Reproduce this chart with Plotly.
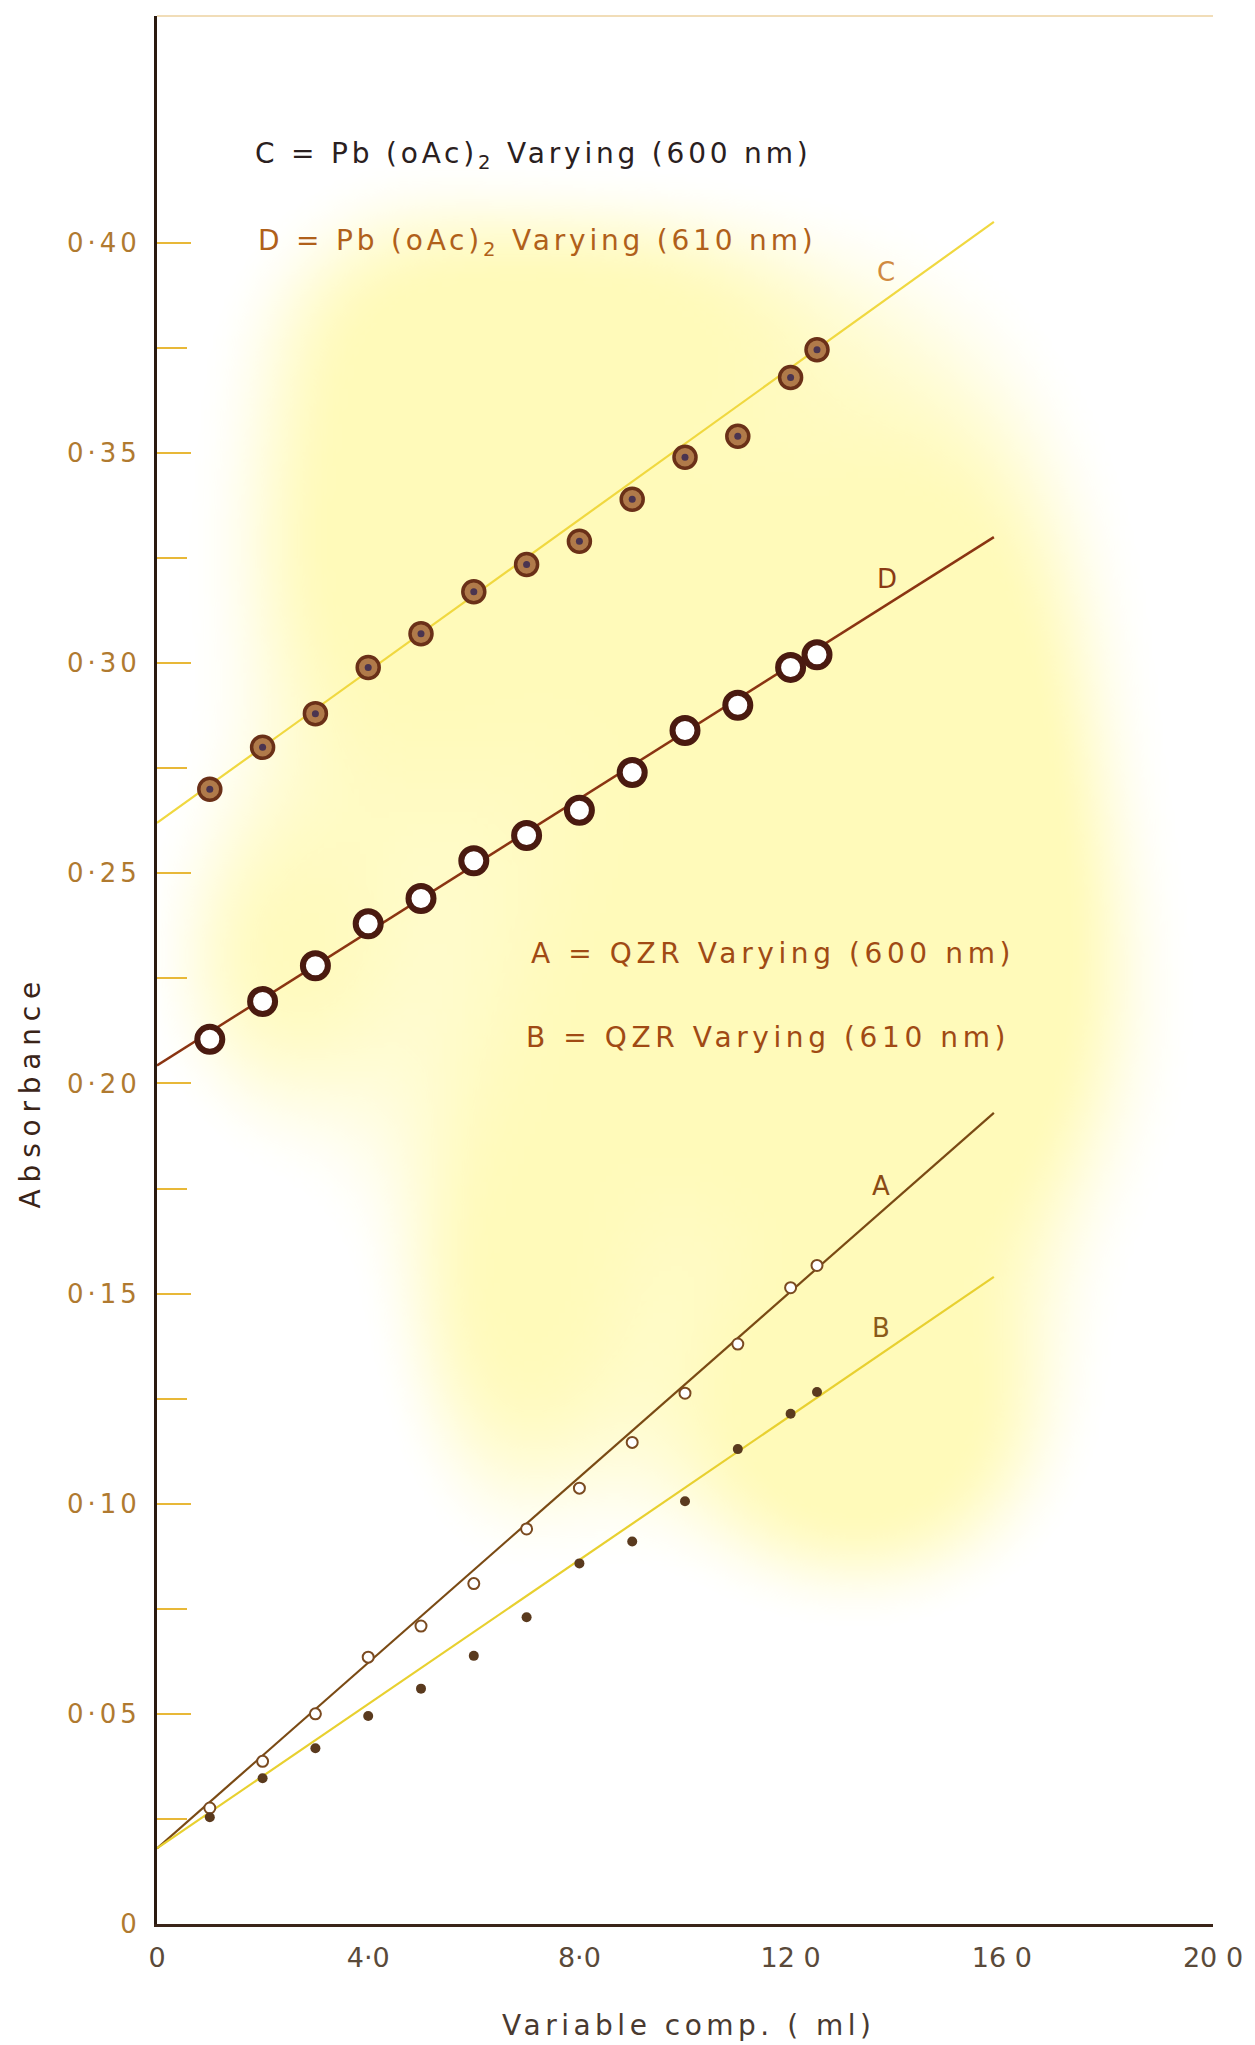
import base64
import struct
import zlib

import numpy as np
import plotly.graph_objects as go

# ---- data ----
vol = [1, 2, 3, 4, 5, 6, 7, 8, 9, 10, 11, 12, 12.5]
abs_C = [0.270, 0.280, 0.288, 0.299, 0.307, 0.317, 0.3235, 0.329, 0.339, 0.349, 0.354, 0.368, 0.3746]
abs_D = [0.2105, 0.2195, 0.228, 0.238, 0.244, 0.253, 0.259, 0.265, 0.274, 0.284, 0.290, 0.299, 0.302]
abs_A = [0.0276, 0.0387, 0.050, 0.0635, 0.0709, 0.081, 0.094, 0.1037, 0.1146, 0.1263, 0.138, 0.1514, 0.1567]
abs_B = [0.0254, 0.0347, 0.0418, 0.0495, 0.056, 0.0638, 0.073, 0.0858, 0.091, 0.1006, 0.113, 0.1214, 0.1266]

fit_x = [0, 15.85]
fit_C = [0.262, 0.405]
fit_D = [0.2043, 0.330]
fit_A = [0.018, 0.193]
fit_B = [0.018, 0.154]

y_tickvals = [0, 0.05, 0.10, 0.15, 0.20, 0.25, 0.30, 0.35, 0.40]
y_ticktext = ["0", "0·05", "0·10", "0·15", "0·20", "0·25", "0·30", "0·35", "0·40"]
y_minor = [0.025, 0.075, 0.125, 0.175, 0.225, 0.275, 0.325, 0.375]
x_tickvals = [0, 4, 8, 12, 16, 20]
x_ticktext = ["0", "4·0", "8·0", "12 0", "16 0", "20 0"]

FONT = "DejaVu Sans"


def spaced(s, px):
    return f'<span style="letter-spacing:{px}px">{s}</span>'


# ---- soft yellow stain of the scanned paper (decoration only) ----
def stain_png(w=180, h=320):
    xs = np.linspace(0, 1, w)[None, :]
    ys = np.linspace(1, 0, h)[:, None]
    comps = [
        (0.48, 0.72, 0.28, 0.12, 0.55),
        (0.58, 0.46, 0.26, 0.11, 0.60),
        (0.76, 0.56, 0.10, 0.15, 0.45),
        (0.66, 0.25, 0.14, 0.065, 0.60),
        (0.33, 0.30, 0.09, 0.09, 0.40),
        (0.10, 0.50, 0.09, 0.07, 0.35),
        (0.40, 0.85, 0.18, 0.045, 0.30),
        (0.20, 0.74, 0.10, 0.12, 0.30),
    ]
    s = np.zeros((h, w))
    for cx, cy, sx, sy, wt in comps:
        s += wt * np.exp(-(((xs - cx) / sx) ** 2 + ((ys - cy) / sy) ** 2) / 2)
    a = np.clip((s - 0.20) / 0.40, 0, 1)
    a = a * a * (3 - 2 * a) * 0.48
    img = np.zeros((h, w, 4), dtype=np.uint8)
    img[..., 0] = 255
    img[..., 1] = 244
    img[..., 2] = 110
    img[..., 3] = (a * 255).astype(np.uint8)
    raw = b"".join(b"\x00" + img[r].tobytes() for r in range(h))

    def chunk(tag, data):
        c = struct.pack(">I", len(data)) + tag + data
        return c + struct.pack(">I", zlib.crc32(tag + data) & 0xFFFFFFFF)

    png = b"\x89PNG\r\n\x1a\n" + chunk(b"IHDR", struct.pack(">IIBBBBB", w, h, 8, 6, 0, 0, 0)) \
        + chunk(b"IDAT", zlib.compress(raw, 9)) + chunk(b"IEND", b"")
    return "data:image/png;base64," + base64.b64encode(png).decode()


fig = go.Figure()

fig.add_layout_image(dict(source=stain_png(), xref="paper", yref="paper", x=0, y=1,
                          sizex=1, sizey=1, sizing="stretch", xanchor="left", yanchor="top",
                          layer="below"))

# fitted lines
fig.add_trace(go.Scatter(x=fit_x, y=fit_C, mode="lines", line=dict(color="#f0d840", width=2.2), showlegend=False))
fig.add_trace(go.Scatter(x=fit_x, y=fit_D, mode="lines", line=dict(color="#8a3412", width=2.5), showlegend=False))
fig.add_trace(go.Scatter(x=fit_x, y=fit_A, mode="lines", line=dict(color="#7a4a14", width=2.2), showlegend=False))
fig.add_trace(go.Scatter(x=fit_x, y=fit_B, mode="lines", line=dict(color="#e8d030", width=2.2), showlegend=False))

# markers
fig.add_trace(go.Scatter(x=vol, y=abs_C, mode="markers", showlegend=False,
                         marker=dict(symbol="circle", size=22, color="#b07a4a",
                                     line=dict(color="#6a3018", width=3.5))))
fig.add_trace(go.Scatter(x=vol, y=abs_C, mode="markers", showlegend=False,
                         marker=dict(symbol="circle", size=7, color="#4a3450", line=dict(width=0))))
fig.add_trace(go.Scatter(x=vol, y=abs_D, mode="markers", showlegend=False,
                         marker=dict(symbol="circle", size=25, color="white",
                                     line=dict(color="#4a1a10", width=6))))
fig.add_trace(go.Scatter(x=vol, y=abs_A, mode="markers", showlegend=False,
                         marker=dict(symbol="circle", size=11, color="white",
                                     line=dict(color="#7a4a20", width=2))))
fig.add_trace(go.Scatter(x=vol, y=abs_B, mode="markers", showlegend=False,
                         marker=dict(symbol="circle", size=10, color="#5a3a1e", line=dict(width=0))))

# faint top border
fig.add_shape(type="line", xref="paper", yref="paper", x0=0, x1=1, y0=1, y1=1,
              line=dict(color="#ecd2a0", width=1.5))


def txt(x, y, s, color, size=28, xanchor="left"):
    fig.add_annotation(x=x, y=y, xref="x", yref="y", text=s, showarrow=False,
                       xanchor=xanchor, yanchor="middle",
                       font=dict(family=FONT, size=size, color=color))


txt(1.82, 0.4207, spaced("C = Pb (oAc)<sub>2</sub> Varying (600 nm)", 3.8), "#2a2020", 28)
txt(1.88, 0.400, spaced("D = Pb (oAc)<sub>2</sub> Varying (610 nm)", 3.8), "#b0601a", 28)
txt(7.05, 0.231, spaced("A = QZR Varying (600 nm)", 4.6), "#a04a14", 28)
txt(6.95, 0.211, spaced("B = QZR Varying (610 nm)", 4.6), "#a04a14", 28)
txt(13.6, 0.393, "C", "#d08a40", 26)
txt(13.6, 0.320, "D", "#8a3a14", 26)
txt(13.5, 0.1755, "A", "#8a4a14", 26)
txt(13.5, 0.1417, "B", "#8a5a1a", 26)

fig.add_annotation(x=-0.12, y=0.436, xref="paper", yref="paper", text=spaced("Absorbance", 6.8),
                   showarrow=False, textangle=-90, xanchor="center", yanchor="middle",
                   font=dict(family=FONT, size=28, color="#3a2418"))
fig.add_annotation(x=0.503, y=-0.053, xref="paper", yref="paper", text=spaced("Variable comp. ( ml)", 4.5),
                   showarrow=False, xanchor="center", yanchor="middle",
                   font=dict(family=FONT, size=28, color="#4a3a30"))

fig.update_xaxes(range=[0, 20], tickvals=x_tickvals, ticktext=x_ticktext, ticks="",
                 showgrid=False, zeroline=False, showline=True, linecolor="#3a2418", linewidth=2.5,
                 tickfont=dict(family=FONT, size=27, color="#5a4a3a"), ticklabelstandoff=8)
fig.update_yaxes(range=[0, 0.454], tickvals=y_tickvals,
                 ticktext=[spaced(t, 4) for t in y_ticktext], ticks="inside",
                 ticklen=34, tickwidth=2, tickcolor="#e8b838",
                 minor=dict(tickvals=y_minor, ticks="inside", ticklen=30, tickwidth=2,
                            tickcolor="#e8b838", showgrid=False),
                 showgrid=False, zeroline=False, showline=True, linecolor="#2a1a10", linewidth=3,
                 tickfont=dict(family=FONT, size=26, color="#b07a30"), ticklabelstandoff=8)

fig.update_layout(width=1255, height=2045, margin=dict(l=157, r=35, t=16, b=121),
                  plot_bgcolor="white", paper_bgcolor="white", showlegend=False)

fig.write_html("out.html")
